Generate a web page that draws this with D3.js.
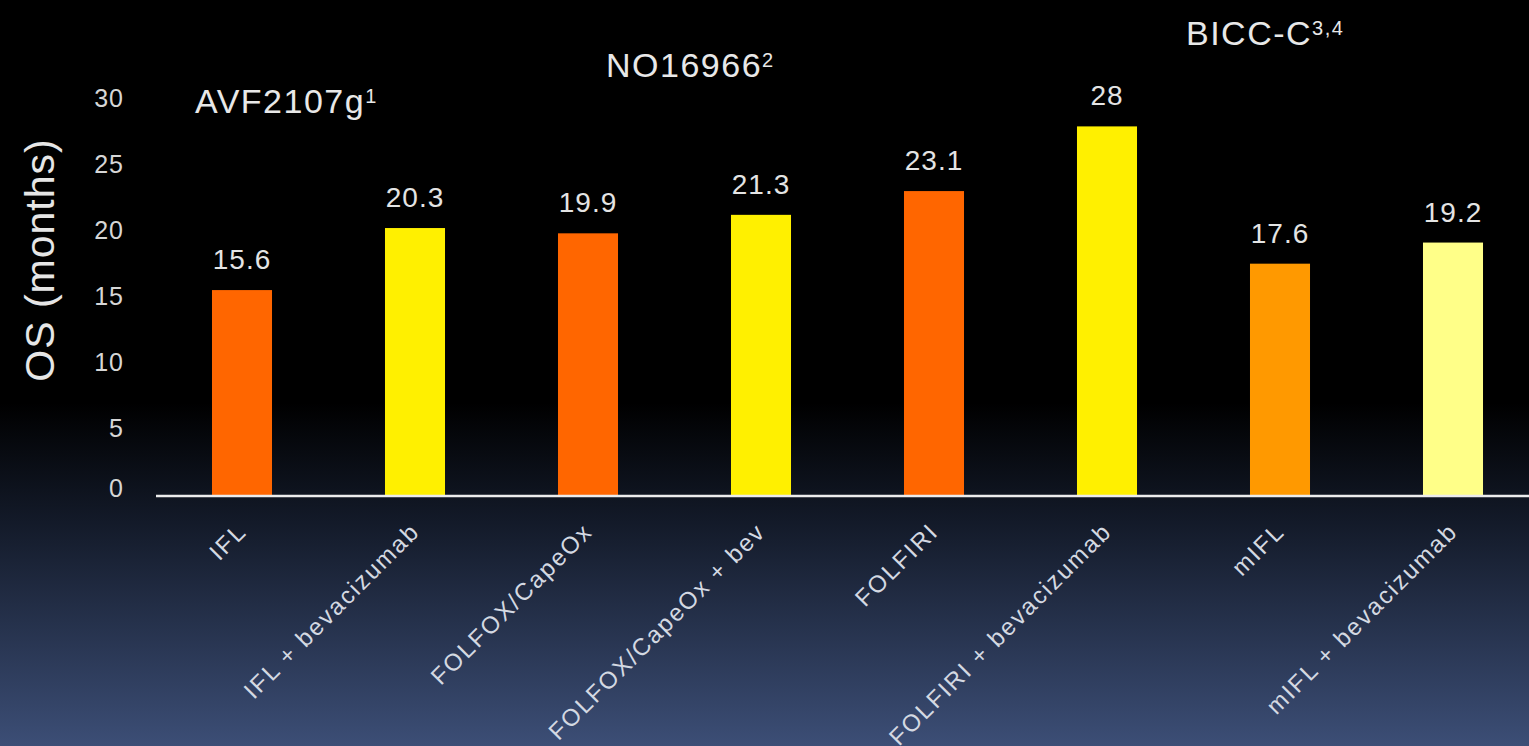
<!DOCTYPE html>
<html>
<head>
<meta charset="utf-8">
<script src="https://cdn.jsdelivr.net/npm/d3@7/dist/d3.min.js"></script>
<style>
  html, body { margin: 0; padding: 0; background: #000; overflow: hidden; }
  svg { display: block; font-family: "Liberation Sans", Arial, Helvetica, sans-serif; }
</style>
</head>
<body>
<svg id="chart" width="1529" height="746"></svg>
<script>
// Overall survival by treatment arm, grouped by trial
const categories = [
  "IFL", "IFL + bevacizumab",
  "FOLFOX/CapeOx", "FOLFOX/CapeOx + bev",
  "FOLFIRI", "FOLFIRI + bevacizumab",
  "mIFL", "mIFL + bevacizumab"
];
const osMonths = [15.6, 20.3, 19.9, 21.3, 23.1, 28, 17.6, 19.2];
const valueLabels = ["15.6", "20.3", "19.9", "21.3", "23.1", "28", "17.6", "19.2"];
const yTicks = [0, 5, 10, 15, 20, 25, 30];
const studyNames = ["AVF2107g", "NO16966", "BICC-C"];
const studyRefs = ["1", "2", "3,4"];
const barColors = ["#ff6600", "#fff000", "#ff6600", "#fff000", "#ff6600", "#fff000", "#ff9900", "#ffff88"];

const W = 1529, H = 746;
const svg = d3.select("#chart");

// dark slide background fading to slate blue at the bottom
const defs = svg.append("defs");
const grad = defs.append("linearGradient")
  .attr("id", "bg").attr("x1", 0).attr("y1", 0).attr("x2", 0).attr("y2", 1);
grad.append("stop").attr("offset", "0%").attr("stop-color", "#000000");
grad.append("stop").attr("offset", "54%").attr("stop-color", "#000000");
grad.append("stop").attr("offset", "70%").attr("stop-color", "#131a29");
grad.append("stop").attr("offset", "100%").attr("stop-color", "#3c4e76");
svg.append("rect").attr("width", W).attr("height", H).attr("fill", "url(#bg)");

const plotLeft = 156, axisY = 496;

const x = d3.scaleBand()
  .domain(categories)
  .range([155.5, 1539.5])
  .paddingInner(0.653)
  .paddingOuter(0.3265);

const y = d3.scaleLinear()
  .domain([0, 30])
  .range([axisY, 100]);

// bars
svg.append("g").selectAll("rect")
  .data(osMonths)
  .join("rect")
  .attr("x", (d, i) => x(categories[i]))
  .attr("y", d => y(d))
  .attr("width", x.bandwidth())
  .attr("height", d => y(0) - y(d))
  .attr("fill", (d, i) => barColors[i]);

// value labels above bars
svg.append("g").selectAll("text")
  .data(osMonths)
  .join("text")
  .attr("x", (d, i) => x(categories[i]) + x.bandwidth() / 2)
  .attr("y", d => y(d) - 21)
  .attr("text-anchor", "middle")
  .attr("fill", "#e4e4e4")
  .style("font-size", "28px")
  .style("letter-spacing", "1px")
  .text((d, i) => valueLabels[i]);

// y axis (labels only)
const yAxis = svg.append("g")
  .attr("transform", `translate(${plotLeft},0)`)
  .call(d3.axisLeft(y).tickValues(yTicks).tickSize(0).tickPadding(32));
yAxis.select(".domain").remove();
yAxis.selectAll("text")
  .attr("fill", "#d6d6d6")
  .attr("dy", d => d === 0 ? "0" : "0.26em")
  .style("font-size", "25px")
  .style("font-family", "'Liberation Sans', Arial, sans-serif")
  .style("letter-spacing", "1px");

// y axis title
svg.append("text")
  .attr("transform", `translate(54,260) rotate(-90)`)
  .attr("text-anchor", "middle")
  .attr("fill", "#e6e6e6")
  .style("font-size", "41px")
  .style("letter-spacing", "1px")
  .text("OS (months)");

// baseline
svg.append("line")
  .attr("x1", plotLeft).attr("x2", W)
  .attr("y1", y(0)).attr("y2", y(0))
  .attr("stroke", "#ececec")
  .attr("stroke-width", 2.5);

// rotated category labels
const xAxis = svg.append("g")
  .attr("transform", `translate(0,${axisY})`)
  .call(d3.axisBottom(x).tickSize(0).tickPadding(0));
xAxis.select(".domain").remove();
xAxis.selectAll("text")
  .attr("y", 0).attr("dy", "0")
  .attr("text-anchor", "end")
  .attr("transform", "translate(6,37) rotate(-45)")
  .attr("fill", "#d4d9e2")
  .style("font-size", "24px")
  .style("font-family", "'Liberation Sans', Arial, sans-serif")
  .style("letter-spacing", "2px");

// trial names over each pair of bars
const studyPos = [
  { x: 195, y: 113 },
  { x: 606, y: 77 },
  { x: 1186, y: 45 }
];
studyNames.forEach((name, i) => {
  const t = svg.append("text")
    .attr("x", studyPos[i].x)
    .attr("y", studyPos[i].y)
    .attr("fill", "#e8e8e8")
    .style("font-size", "34px")
    .style("letter-spacing", "1.5px");
  t.append("tspan").text(name);
  t.append("tspan")
    .attr("dy", "-0.5em")
    .style("font-size", "20px")
    .text(studyRefs[i]);
});
</script>
</body>
</html>
